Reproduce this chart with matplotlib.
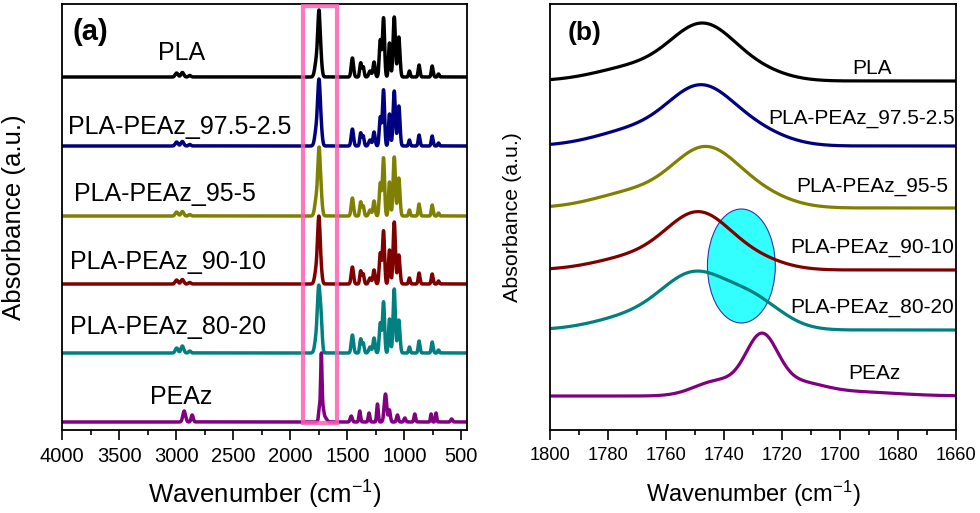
import numpy as np
import matplotlib
matplotlib.use("Agg")
import matplotlib.pyplot as plt
from matplotlib.patches import Rectangle, Ellipse
from matplotlib.ticker import MultipleLocator

plt.rcParams['font.family'] = ['Liberation Sans', 'DejaVu Sans']
plt.rcParams['mathtext.fontset'] = 'custom'
plt.rcParams['mathtext.rm'] = 'Liberation Sans'
plt.rcParams['mathtext.it'] = 'Liberation Sans:italic'
plt.rcParams['mathtext.bf'] = 'Liberation Sans:bold'

# samples, top to bottom
names = ['PLA', 'PLA-PEAz_97.5-2.5', 'PLA-PEAz_95-5', 'PLA-PEAz_90-10',
         'PLA-PEAz_80-20', 'PEAz']
colors = ['#000000', '#000080', '#808000', '#800000', '#008080', '#800080']

# C=O band components: centre (cm-1), height, sigma
co_center = [[1770, 1747, 1728], [1770, 1748, 1730], [1770, 1746.5, 1729],
             [1770, 1748.5, 1729], [1770, 1750, 1730],
             [1742, 1727, 1715, 1695]]
co_height = [[14, 53, 8], [16, 53, 14], [16, 54, 13],
             [13, 53, 9], [14, 50, 28], [15, 55, 12, 4]]
co_sigma = [[14, 11, 10], [14, 11, 11], [14, 11, 11],
            [14, 11, 10], [14, 11, 10], [8, 5.5, 9, 15]]

# C=O peak height in the full spectra of panel (a)
co_peak_a = [67, 67, 69, 68, 68, 69]

# other bands of the PLA based samples (panel a)
pla_center = [2995, 2945, 2880, 1455, 1382, 1360, 1300, 1265, 1210, 1182,
              1130, 1088, 1048, 955, 870, 755, 700]
pla_sigma = [12, 12, 10, 10, 8, 8, 11, 9, 9, 9, 8, 10, 10, 7, 8, 8, 7]
pla_height = [
    [4, 4.5, 1.5, 19, 14, 10, 6, 15, 37, 59, 34, 60, 40, 6, 12, 11, 3],
    [4, 4.5, 1.5, 17, 13, 10, 6, 14, 29, 56, 32, 55, 40, 6, 11, 10, 3],
    [4, 4.5, 1.5, 18, 14, 10, 6, 15, 33, 58, 34, 59, 38, 6, 12, 11, 3],
    [4, 4.5, 1.5, 17, 13, 10, 6, 14, 31, 53, 34, 62, 29, 6, 11, 10, 3],
    [5, 7, 2, 18, 14, 10, 6, 15, 30, 51, 34, 64, 33, 6, 12, 11, 3],
]

# other bands of PEAz (panel a)
peaz_center = [2929, 2859, 1465, 1390, 1309, 1235, 1165, 1130, 1060, 995,
               908, 765, 722, 585]
peaz_sigma = [12, 9, 9, 7, 7, 7, 11, 8, 8, 8, 7, 6, 6, 8]
peaz_height = [11, 7, 6, 11, 9, 18, 28, 12, 7, 4, 8, 8, 9, 3]

# vertical offsets of the stacked traces
offset_a = [353, 284, 214, 146, 77, 8]
offset_b = [349, 284, 222, 160, 100, 34]

# label positions
lab_a_x = [2949, 2973, 3095, 3073, 3073, 2955]
lab_a_y = [377, 303, 236, 168, 103, 33]
lab_b_x = [1689, 1692.5, 1689, 1689, 1689, 1688]
lab_b_y = [362, 312, 243, 182, 122, 56]


def bands(x, centers, heights, sigmas):
    y = np.zeros_like(x)
    for c, h, s in zip(centers, heights, sigmas):
        y += h * np.exp(-(x - c) ** 2 / (2 * s ** 2))
    return y


xa = np.arange(450, 4000.5, 0.5)
xb = np.arange(1660, 1800.25, 0.25)

fig = plt.figure(figsize=(9.8, 5.13), dpi=100)
axa = fig.add_axes([0.0633, 0.1618, 0.4133, 0.8304])
axb = fig.add_axes([0.5612, 0.1618, 0.4143, 0.8304])

# panel (a)
for i in range(6):
    co = bands(xa, co_center[i], co_height[i], co_sigma[i])
    co = co * co_peak_a[i] / co.max()
    if i < 5:
        rest = bands(xa, pla_center, pla_height[i], pla_sigma)
    else:
        rest = bands(xa, peaz_center, peaz_height, peaz_sigma)
    axa.plot(xa, co + rest + offset_a[i], color=colors[i], lw=2.5,
             solid_joinstyle='round')
    axa.text(lab_a_x[i], lab_a_y[i], names[i], fontsize=18, ha='center',
             va='center')

axa.add_patch(Rectangle((1588, 7), 1890 - 1588, 417, fill=False,
                        edgecolor='#FF5FB0', lw=3, alpha=0.85, zorder=5))
axa.text(0.069, 0.934, '(a)', transform=axa.transAxes, fontsize=21,
         fontweight='bold', ha='center', va='center')
axa.set_xlim(4000, 450)
axa.set_ylim(0, 426)
axa.set_yticks([])
axa.xaxis.set_major_locator(MultipleLocator(500))
axa.xaxis.set_minor_locator(MultipleLocator(250))
axa.tick_params(axis='x', which='major', direction='out', length=7, width=1.2,
                labelsize=14.5, pad=5)
axa.tick_params(axis='x', which='minor', direction='out', length=3.5,
                width=1.2)
axa.set_xlabel('Wavenumber (cm$^{\\mathregular{-1}}$)', fontsize=18.5)
axa.set_ylabel('Absorbance (a.u.)', fontsize=18.6)
axa.yaxis.set_label_coords(-0.089, 0.5)
axa.xaxis.set_label_coords(0.5, -0.115)

# panel (b)
axb.add_patch(Ellipse((1734, 164), 23.4, 114, facecolor='#33FFFF',
                      edgecolor='#3333AA', lw=0.8, zorder=1))
for i in range(6):
    yb = bands(xb, co_center[i], co_height[i], co_sigma[i])
    axb.plot(xb, yb + offset_b[i], color=colors[i], lw=2.3, zorder=2)
    axb.text(lab_b_x[i], lab_b_y[i], names[i], fontsize=15, ha='center',
             va='center')

axb.text(0.084, 0.932, '(b)', transform=axb.transAxes, fontsize=19,
         fontweight='bold', ha='center', va='center')
axb.set_xlim(1800, 1660)
axb.set_ylim(0, 426)
axb.set_yticks([])
axb.xaxis.set_major_locator(MultipleLocator(20))
axb.xaxis.set_minor_locator(MultipleLocator(10))
axb.tick_params(axis='x', which='major', direction='out', length=7, width=1.2,
                labelsize=13.2, pad=5)
axb.tick_params(axis='x', which='minor', direction='out', length=3.5,
                width=1.2)
axb.set_xlabel('Wavenumber (cm$^{\\mathregular{-1}}$)', fontsize=17)
axb.set_ylabel('Absorbance (a.u.)', fontsize=15.4)
axb.yaxis.set_label_coords(-0.069, 0.5)
axb.xaxis.set_label_coords(0.5, -0.115)

for ax in (axa, axb):
    for sp in ax.spines.values():
        sp.set_linewidth(1.3)

fig.savefig('out.png', dpi=100)
